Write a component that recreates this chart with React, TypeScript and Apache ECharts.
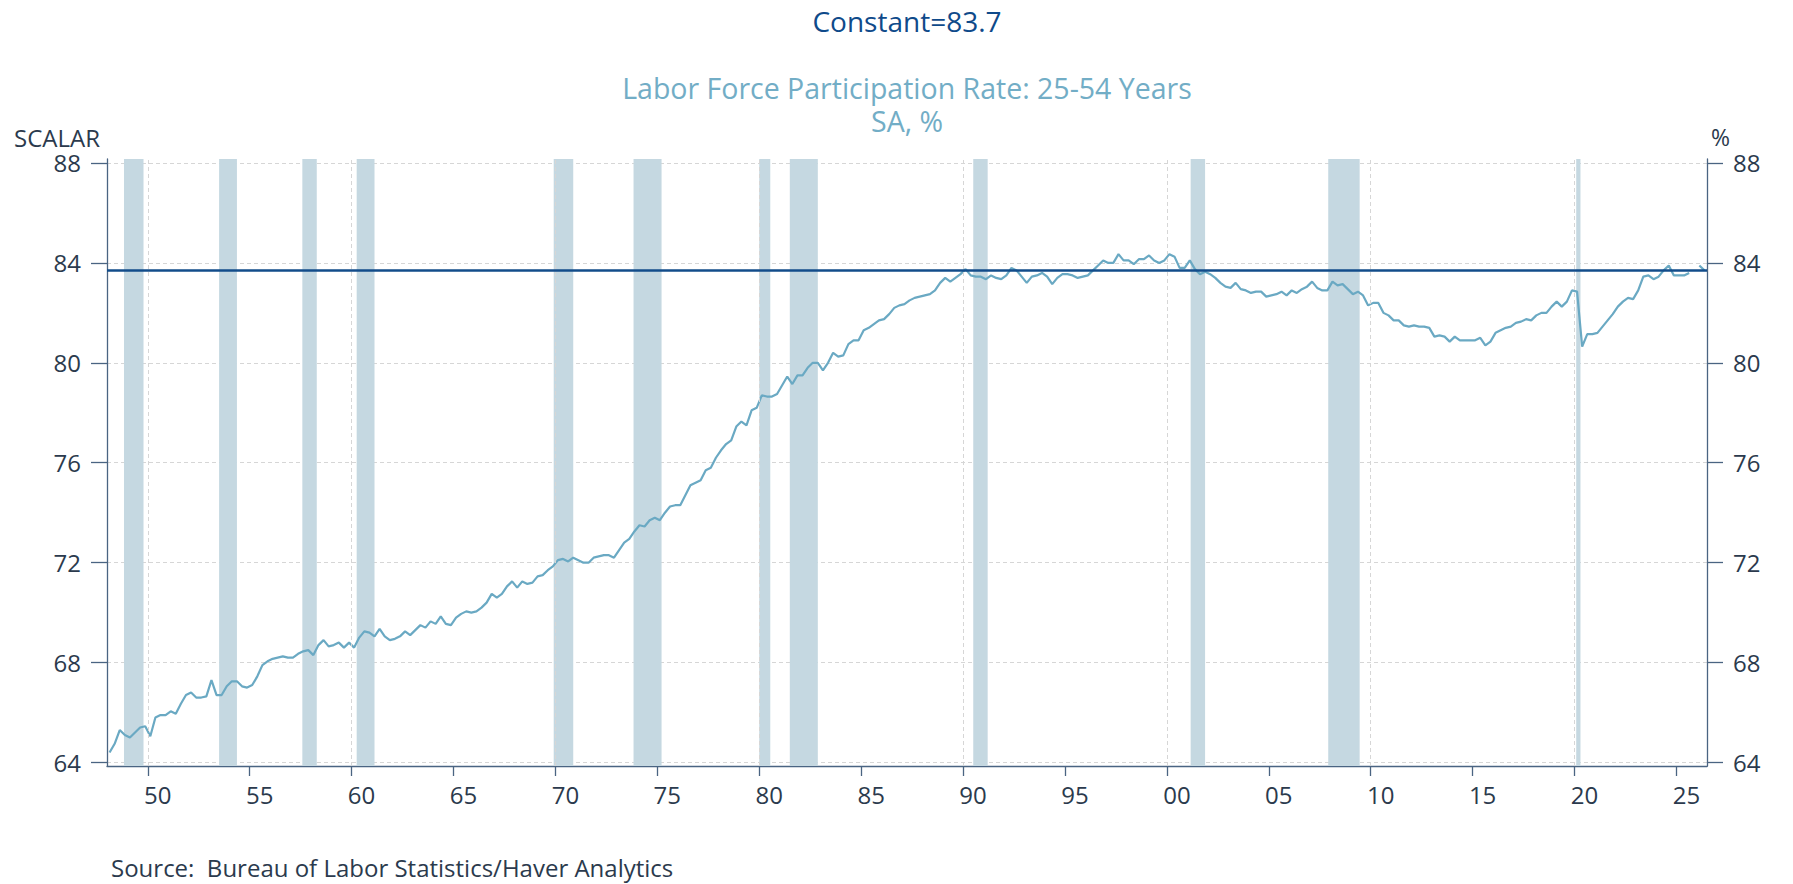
import { useEffect, useRef } from 'react';
import * as echarts from 'echarts';

// Labor force participation rate, 25-54 yrs, SA %, quarterly (Q1..Q4 per year)
const FIRST_YEAR = 1948;
const LFPR_1948_1967 = [
  64.4, 64.75, 65.3, 65.1,
  65.0, 65.2, 65.4, 65.45,
  65.05, 65.8, 65.9, 65.9,
  66.05, 65.95, 66.35, 66.7,
  66.8, 66.6, 66.6, 66.65,
  67.3, 66.7, 66.7, 67.05,
  67.25, 67.25, 67.05, 67.0,
  67.1, 67.45, 67.9, 68.05,
  68.15, 68.2, 68.25, 68.2,
  68.2, 68.35, 68.45, 68.5,
  68.3, 68.7, 68.9, 68.65,
  68.7, 68.8, 68.6, 68.8,
  68.6, 69.0, 69.25, 69.2,
  69.05, 69.35, 69.05, 68.9,
  68.95, 69.05, 69.25, 69.1,
  69.3, 69.5, 69.4, 69.65,
  69.55, 69.85, 69.55, 69.5,
  69.8, 69.95, 70.05, 70.0,
  70.05, 70.2, 70.4, 70.75,
  70.6, 70.75, 71.05, 71.25
];
const LFPR_1968_1987 = [
  71.0, 71.25, 71.15, 71.2,
  71.45, 71.5, 71.7, 71.85,
  72.1, 72.15, 72.05, 72.2,
  72.1, 72.0, 72.0, 72.2,
  72.25, 72.3, 72.3, 72.2,
  72.5, 72.8, 72.95, 73.25,
  73.5, 73.45, 73.7, 73.8,
  73.7, 74.0, 74.25, 74.3,
  74.3, 74.7, 75.1, 75.2,
  75.3, 75.7, 75.8, 76.2,
  76.5, 76.75, 76.9, 77.45,
  77.65, 77.5, 78.1, 78.2,
  78.7, 78.65, 78.65, 78.75,
  79.1, 79.45, 79.15, 79.5,
  79.5, 79.8, 80.0, 80.0,
  79.7, 80.0, 80.4, 80.25,
  80.3, 80.75, 80.9, 80.9,
  81.3, 81.4, 81.55, 81.7,
  81.75, 81.95, 82.2, 82.3,
  82.35, 82.5, 82.6, 82.65
];
const LFPR_1988_2007 = [
  82.7, 82.75, 82.9, 83.2,
  83.4, 83.25, 83.4, 83.55,
  83.75, 83.5, 83.45, 83.45,
  83.35, 83.5, 83.4, 83.35,
  83.5, 83.8, 83.7, 83.45,
  83.2, 83.45, 83.5, 83.6,
  83.45, 83.15, 83.4, 83.55,
  83.55, 83.5, 83.4, 83.45,
  83.5, 83.7, 83.9, 84.1,
  84.0, 84.0, 84.35, 84.1,
  84.1, 83.95, 84.15, 84.15,
  84.3, 84.1, 84.0, 84.1,
  84.35, 84.25, 83.8, 83.8,
  84.1, 83.75, 83.55, 83.65,
  83.55, 83.4, 83.2, 83.05,
  83.0, 83.2, 82.95, 82.9,
  82.8, 82.85, 82.85, 82.65,
  82.7, 82.75, 82.85, 82.7,
  82.9, 82.8, 82.95, 83.05,
  83.25, 83.0, 82.9, 82.9
];
const LFPR_2008_2026 = [
  83.25, 83.1, 83.15, 82.95,
  82.75, 82.85, 82.7, 82.3,
  82.4, 82.4, 82.0, 81.9,
  81.7, 81.7, 81.5, 81.45,
  81.5, 81.45, 81.45, 81.4,
  81.05, 81.1, 81.05, 80.85,
  81.05, 80.9, 80.9, 80.9,
  80.9, 81.0, 80.7, 80.85,
  81.2, 81.3, 81.4, 81.45,
  81.6, 81.65, 81.75, 81.7,
  81.9, 82.0, 82.0, 82.25,
  82.45, 82.25, 82.45, 82.9,
  82.85, 80.65, 81.15, 81.15,
  81.2, 81.45, 81.7, 81.95,
  82.25, 82.45, 82.6, 82.55,
  82.9, 83.45, 83.5, 83.35,
  83.45, 83.7, 83.9, 83.5,
  83.5, 83.5, 83.6, null,
  83.9, 83.7
];

const CONSTANT = 83.7;

// NBER recessions: peak month -> trough month
const RECESSIONS = [
  ['1948-11', '1949-10'],
  ['1953-07', '1954-05'],
  ['1957-08', '1958-04'],
  ['1960-04', '1961-02'],
  ['1969-12', '1970-11'],
  ['1973-11', '1975-03'],
  ['1980-01', '1980-07'],
  ['1981-07', '1982-11'],
  ['1990-07', '1991-03'],
  ['2001-03', '2001-11'],
  ['2007-12', '2009-06'],
  ['2020-02', '2020-04']
];

const X_TICKS = [1950, 1955, 1960, 1965, 1970, 1975, 1980, 1985, 1990, 1995, 2000, 2005, 2010, 2015, 2020, 2025];
const X_GRID = [1950, 1960, 1970, 1980, 1990, 2000, 2010, 2020];
const Y_TICKS = [64, 68, 72, 76, 80, 84, 88];

const TITLE = 'Constant=83.7';
const SUBTITLE = 'Labor Force Participation Rate: 25-54 Years\nSA, %';
const LEFT_UNIT = 'SCALAR';
const RIGHT_UNIT = '%';
const SOURCE = 'Source:  Bureau of Labor Statistics/Haver Analytics';

const FONT = "'Open Sans', 'Noto Sans', sans-serif";
const AXIS_COLOR = '#4a6482';
const LABEL_COLOR = '#2b3a4d';
const GRID_COLOR = '#d6d6d6';
const LINE_COLOR = '#6aa9c3';
const BAND_COLOR = '#c5d8e1';
const CONST_COLOR = '#124c8a';

const monthToYear = (s: string, mid: boolean) => {
  const [y, m] = s.split('-').map(Number);
  return y + (m - 1) / 12 + (mid ? 1 / 24 : 0);
};

export default function App() {
  const chartRef = useRef<HTMLDivElement>(null);

  useEffect(() => {
    if (!chartRef.current) return;
    const chart = echarts.init(chartRef.current, undefined, { renderer: 'svg' });

    const values = [...LFPR_1948_1967, ...LFPR_1968_1987, ...LFPR_1988_2007, ...LFPR_2008_2026];
    // quarterly points plotted at mid-quarter
    const lineData = values.map((v, i) => [FIRST_YEAR + i / 4 + 0.125, v]);

    const bands = RECESSIONS.map(([a, b]) => [
      { xAxis: monthToYear(a, false) },
      { xAxis: monthToYear(b, true) }
    ]);

    const text = (t: string, x: number, y: number, size: number, color: string, align = 'center', lineHeight?: number) => ({
      type: 'text',
      x,
      y,
      silent: true,
      style: {
        text: t,
        fill: color,
        fontSize: size,
        fontFamily: FONT,
        lineHeight,
        align,
        verticalAlign: 'middle',
        textAlign: align,
        textVerticalAlign: 'middle'
      }
    });

    const yAxisBase = {
      type: 'value',
      min: 63.86,
      max: 88.16,
      axisLine: { show: true, lineStyle: { color: AXIS_COLOR, width: 1.3 } },
      axisTick: { show: true, length: 16, customValues: Y_TICKS, lineStyle: { color: AXIS_COLOR, width: 1.3 } },
      axisLabel: {
        customValues: Y_TICKS,
        color: LABEL_COLOR,
        fontSize: 24,
        fontFamily: FONT,
        margin: 26
      }
    };

    const options: any = {
      animation: false,
      grid: { left: 107, right: 86, top: 159, bottom: 118, containLabel: false },
      xAxis: {
        type: 'value',
        min: 1948,
        max: 2026.5,
        axisLine: { show: true, onZero: false, lineStyle: { color: AXIS_COLOR, width: 1.3 } },
        axisTick: { show: true, length: 10, customValues: X_TICKS, lineStyle: { color: AXIS_COLOR, width: 1.3 } },
        axisLabel: {
          customValues: X_TICKS,
          color: LABEL_COLOR,
          fontSize: 24,
          fontFamily: FONT,
          margin: 16,
          padding: [0, 0, 0, 20], // labels sit mid-year
          formatter: (v: number) => String(Math.round(v) % 100).padStart(2, '0')
        },
        splitLine: { show: false }
      },
      yAxis: [
        {
          ...yAxisBase,
          position: 'left',
          splitLine: { show: true, lineStyle: { color: GRID_COLOR, type: [4, 3], width: 1 } }
        },
        {
          ...yAxisBase,
          position: 'right',
          splitLine: { show: false }
        }
      ],
      series: [
        {
          name: 'Decade grid',
          type: 'line',
          data: [],
          z: 0,
          silent: true,
          markLine: {
            silent: true,
            symbol: ['none', 'none'],
            label: { show: false },
            lineStyle: { color: GRID_COLOR, width: 1, type: [4, 3] },
            data: X_GRID.map(x => ({ xAxis: x }))
          }
        },
        {
          name: 'Recessions',
          type: 'line',
          data: [],
          z: 1,
          silent: true,
          markArea: {
            silent: true,
            itemStyle: { color: BAND_COLOR, opacity: 1 },
            data: bands
          }
        },
        {
          name: 'LFPR 25-54',
          type: 'line',
          z: 3,
          data: lineData,
          showSymbol: false,
          connectNulls: false,
          lineStyle: { color: LINE_COLOR, width: 2.2 },
          markLine: {
            silent: true,
            symbol: ['none', 'none'],
            label: { show: false },
            lineStyle: { color: CONST_COLOR, width: 2.5, type: 'solid' },
            data: [{ yAxis: CONSTANT }]
          }
        }
      ],
      graphic: [
        text(TITLE, 907, 20.5, 28, '#0f4a8a'),
        text(SUBTITLE, 907, 104.5, 28.5, '#72adc6', 'center', 32.5),
        text(LEFT_UNIT, 14, 137, 24, LABEL_COLOR, 'left'),
        text(RIGHT_UNIT, 1711, 137, 23, LABEL_COLOR, 'left'),
        text(SOURCE, 111, 867, 24, LABEL_COLOR, 'left')
      ]
    };

    chart.setOption(options);

    return () => chart.dispose();
  }, []);

  return (
    <div
      ref={chartRef}
      style={{ position: 'absolute', left: 0, top: 0, width: '1793px', height: '884px', background: '#fff' }}
    />
  );
}
